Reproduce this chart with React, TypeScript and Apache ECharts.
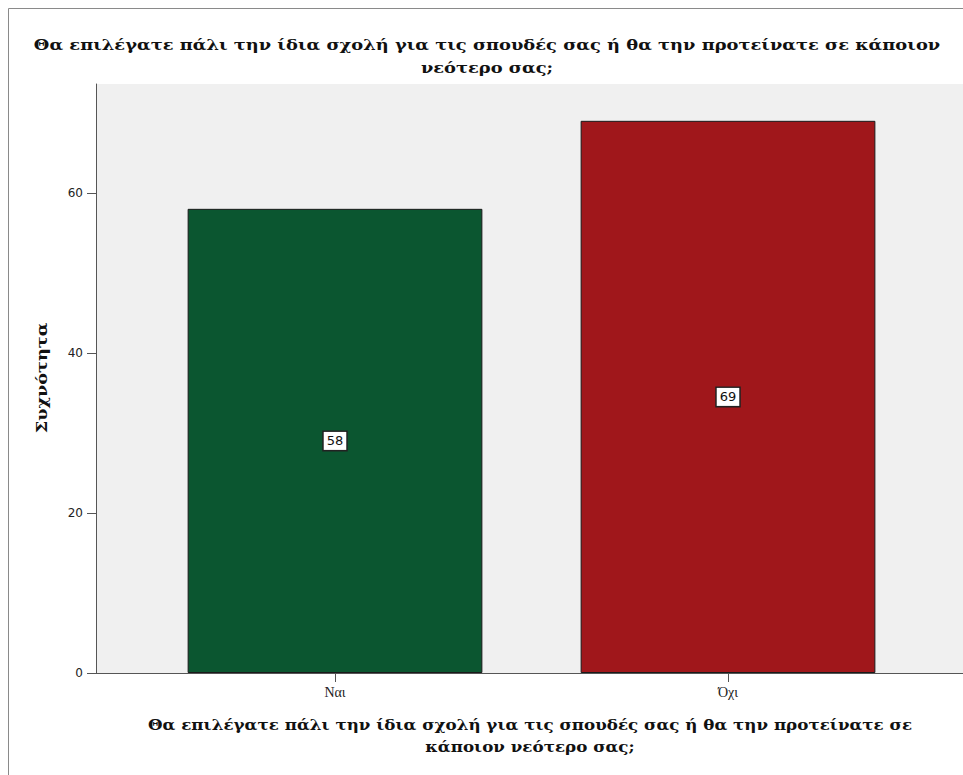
import React, { useEffect, useRef } from "react";
import * as echarts from "echarts";

const categories = ["Ναι", "Όχι"];
const counts = [58, 69];
const barColors = ["#0b5630", "#a0171b"];
const yTicks = [0, 20, 40, 60];
const yMax = 73.6;
const titleLines = [
  "Θα επιλέγατε πάλι την ίδια σχολή για τις σπουδές σας ή θα την προτείνατε σε κάποιον",
  "νεότερο σας;",
];
const xAxisTitleLines = [
  "Θα επιλέγατε πάλι την ίδια σχολή για τις σπουδές σας ή θα την προτείνατε σε",
  "κάποιον νεότερο σας;",
];
const yAxisTitle = "Συχνότητα";

export default function App() {
  const ref = useRef<HTMLDivElement>(null);
  useEffect(() => {
    if (!ref.current) return;
    const chart = echarts.init(ref.current, undefined, { renderer: "svg" });
    const serif = "DejaVu Serif";
    const boldFont = (size: number) => `bold ${size}px "${serif}"`;
    chart.setOption({
      animation: false,
      backgroundColor: "#ffffff",
      graphic: [
        {
          type: "rect",
          shape: { x: 8.5, y: 8.5, width: 1200, height: 1200 },
          style: { fill: "none", stroke: "#8a8a8a", lineWidth: 1 },
          silent: true,
          z: 100,
        },
        {
          type: "text",
          x: 487,
          y: 45,
          scaleX: 1.19,
          style: {
            text: titleLines[0],
            font: boldFont(15),
            fill: "#111",
            textAlign: "center",
            textVerticalAlign: "middle",
          },
        },
        {
          type: "text",
          x: 487,
          y: 68,
          scaleX: 1.19,
          style: {
            text: titleLines[1],
            font: boldFont(15),
            fill: "#111",
            textAlign: "center",
            textVerticalAlign: "middle",
          },
        },
        {
          type: "text",
          x: 530,
          y: 725,
          scaleX: 1.115,
          style: {
            text: xAxisTitleLines[0],
            font: boldFont(15),
            fill: "#111",
            textAlign: "center",
            textVerticalAlign: "middle",
          },
        },
        {
          type: "text",
          x: 530,
          y: 747,
          scaleX: 1.115,
          style: {
            text: xAxisTitleLines[1],
            font: boldFont(15),
            fill: "#111",
            textAlign: "center",
            textVerticalAlign: "middle",
          },
        },
        {
          type: "text",
          x: 42,
          y: 378,
          rotation: Math.PI / 2,
          scaleX: 1.18,
          style: {
            text: yAxisTitle,
            font: boldFont(15),
            fill: "#111",
            textAlign: "center",
            textVerticalAlign: "middle",
          },
        },
      ],
      grid: [
        {
          left: 96,
          right: 0,
          top: 84,
          bottom: 102,
          show: true,
          backgroundColor: "#f0f0f0",
          borderWidth: 0,
        },
        { left: 138.5, right: 38.5, top: 84, bottom: 102 },
      ],
      xAxis: [
        {
          gridIndex: 0,
          type: "value",
          min: 0,
          max: 1,
          axisLine: { show: true, lineStyle: { color: "#555", width: 1 } },
          axisTick: { show: false },
          axisLabel: { show: false },
          splitLine: { show: false },
        },
        {
          gridIndex: 1,
          type: "category",
          data: categories,
          axisLine: { show: false },
          axisTick: {
            show: true,
            alignWithLabel: true,
            length: 9,
            lineStyle: { color: "#555" },
          },
          axisLabel: {
            margin: 12,
            fontFamily: "Liberation Serif",
            fontSize: 14,
            color: "#222",
          },
        },
      ],
      yAxis: [
        {
          gridIndex: 0,
          type: "value",
          min: 0,
          max: yMax,
          axisLine: { show: true, lineStyle: { color: "#555", width: 1 } },
          axisTick: {
            show: true,
            length: 9,
            customValues: yTicks,
            lineStyle: { color: "#555" },
          },
          axisLabel: {
            customValues: yTicks,
            margin: 13,
            fontFamily: "DejaVu Sans",
            fontSize: 12,
            color: "#222",
          },
          splitLine: { show: false },
        },
        {
          gridIndex: 1,
          type: "value",
          min: 0,
          max: yMax,
          show: false,
        },
      ],
      series: [
        {
          type: "bar",
          xAxisIndex: 1,
          yAxisIndex: 1,
          barWidth: "75%",
          data: counts.map((v, i) => ({
            value: v,
            itemStyle: { color: barColors[i] },
          })),
          itemStyle: { borderColor: "#1a1a1a", borderWidth: 1 },
          label: {
            show: true,
            position: "inside",
            fontFamily: "DejaVu Sans",
            fontSize: 13,
            color: "#111",
            backgroundColor: "#ffffff",
            borderColor: "#222",
            borderWidth: 1.5,
            padding: [3, 3, 2, 3],
          },
        },
      ],
    });
    return () => chart.dispose();
  }, []);
  return (
    <div
      ref={ref}
      style={{ position: "absolute", left: 0, top: 0, width: 963, height: 775 }}
    />
  );
}
